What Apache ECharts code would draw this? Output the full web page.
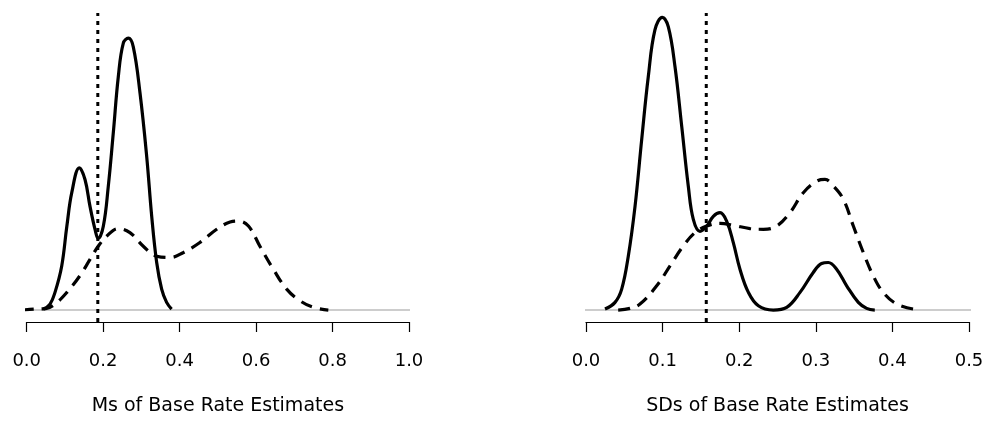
<!DOCTYPE html>
<html>
<head>
<meta charset="utf-8">
<script src="https://cdn.jsdelivr.net/npm/echarts@6/dist/echarts.min.js"></script>
<style>
  html, body { margin: 0; padding: 0; background: #fff; }
  #chart { width: 987px; height: 421px; }
</style>
</head>
<body>
<div id="chart"></div>
<script>
// 左图：均值分布 (x, 密度高度)
var msSolid = [[0.044,1],[0.061,6],[0.074,17.7],[0.0915,44],[0.105,84],[0.118,118],[0.1377,142.7],
  [0.1525,131],[0.1656,104],[0.1787,81],[0.187,71.7],[0.2004,84],[0.2134,124],[0.2265,177.7],
  [0.2396,234],[0.2527,267.7],[0.2658,272.7],[0.2788,264],[0.2964,217.7],[0.3139,154],[0.327,94],
  [0.340,47.7],[0.353,21],[0.366,7.7],[0.379,1]];
var msDashed = [[-0.013,0],[0.02,1],[0.05,1.5],[0.074,6],[0.105,17.7],[0.139,34.3],[0.166,51],[0.187,64],
  [0.209,74],[0.2396,81.7],[0.270,77.7],[0.305,64],[0.340,54],[0.375,52.7],[0.41,57.7],[0.453,67.7],
  [0.497,81],[0.532,88.3],[0.5535,89.3],[0.58,84.3],[0.61,64],[0.645,41],[0.68,21],[0.715,9.3],
  [0.75,2.7],[0.789,0]];
var msRef = 0.186;
var msTicks = [0, 0.2, 0.4, 0.6, 0.8, 1.0];

// 右图：标准差分布
var sdSolid = [[0.0248,1],[0.0379,7.7],[0.0466,21],[0.0552,54],[0.064,104],[0.0727,171],[0.0813,234],
  [0.090,281],[0.0996,293.7],[0.1075,284],[0.1162,244],[0.125,184],[0.1336,124],[0.1401,91],
  [0.1488,79],[0.1575,84],[0.1662,94],[0.175,97.7],[0.1837,89],[0.1923,67.7],[0.201,41],[0.212,17.7],
  [0.225,4.3],[0.2445,0],[0.262,2.7],[0.2794,17.7],[0.2967,37.7],[0.3076,46.7],[0.3163,47.7],
  [0.3272,41],[0.3403,24.3],[0.3555,7.7],[0.3664,1.7],[0.377,0]];
var sdDashed = [[0.042,0],[0.0574,1.7],[0.0705,6],[0.0923,24.3],[0.1097,44.3],[0.127,64.3],[0.1423,77.7],
  [0.1575,84.3],[0.175,87],[0.1923,85],[0.214,81.7],[0.2315,81],[0.249,84.3],[0.2663,97.7],
  [0.2837,117.7],[0.3012,129.3],[0.312,131],[0.323,124.3],[0.336,111],[0.349,84.3],[0.362,57.7],
  [0.375,34.3],[0.388,17.7],[0.4056,6],[0.427,1]];
var sdRef = 0.157;
var sdTicks = [0, 0.1, 0.2, 0.3, 0.4, 0.5];

var yMin = -12, yMax = 300;
var FONT = 'DejaVu Sans, Arial, sans-serif';

function xAxisOf(idx, ticks, title) {
    return {
        type: 'value',
        gridIndex: idx,
        min: ticks[0],
        max: ticks[ticks.length - 1],
        interval: ticks[1] - ticks[0],
        splitLine: {show: false},
        axisLine: {show: true, onZero: false, lineStyle: {color: '#000', width: 1.2}},
        axisTick: {show: true, length: 10, lineStyle: {color: '#000', width: 1.2}},
        axisLabel: {
            margin: 30, color: '#000', fontSize: 18, fontFamily: FONT,
            formatter: function (v) { return v.toFixed(1); }
        },
        name: title,
        nameLocation: 'middle',
        nameGap: 75,
        nameTextStyle: {color: '#000', fontSize: 19, fontFamily: FONT}
    };
}

function yAxisOf(idx) {
    return {type: 'value', gridIndex: idx, min: yMin, max: yMax, show: false};
}

function curve(idx, data, type) {
    return {
        type: 'line', xAxisIndex: idx, yAxisIndex: idx, data: data,
        smooth: 0.4, symbol: 'none', z: 3,
        lineStyle: {color: '#000', width: 3.2, type: type}
    };
}

function refLine(idx, x) {
    return {
        type: 'line', xAxisIndex: idx, yAxisIndex: idx,
        data: [[x, yMin], [x, yMax - 2]],
        symbol: 'none', z: 4,
        lineStyle: {color: '#000', width: 3, type: [4, 5]}
    };
}

function baseLine(idx, ticks) {
    var span = (ticks[ticks.length - 1] - ticks[0]) * 0.04;
    return {
        type: 'line', xAxisIndex: idx, yAxisIndex: idx,
        data: [[ticks[0] - span, 0], [ticks[ticks.length - 1] + span, 0]],
        symbol: 'none', clip: false, z: 1,
        lineStyle: {color: '#bdbdbd', width: 1.5}
    };
}

var chart = echarts.init(document.getElementById('chart'));
chart.setOption({
    backgroundColor: '#fff',
    animation: false,
    grid: [
        {left: 26.7, width: 382.3, top: 11, bottom: 98},
        {left: 586, width: 383, top: 11, bottom: 98}
    ],
    xAxis: [
        xAxisOf(0, msTicks, 'Ms of Base Rate Estimates'),
        xAxisOf(1, sdTicks, 'SDs of Base Rate Estimates')
    ],
    yAxis: [yAxisOf(0), yAxisOf(1)],
    series: [
        baseLine(0, msTicks),
        curve(0, msSolid, 'solid'),
        curve(0, msDashed, [12, 8]),
        refLine(0, msRef),
        baseLine(1, sdTicks),
        curve(1, sdSolid, 'solid'),
        curve(1, sdDashed, [12, 8]),
        refLine(1, sdRef)
    ]
});
</script>
</body>
</html>
